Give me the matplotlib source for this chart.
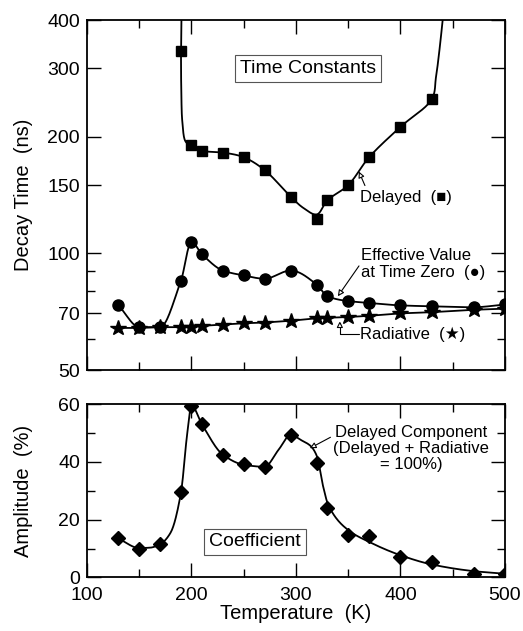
import numpy as np
import matplotlib
matplotlib.use('Agg')
import matplotlib.pyplot as plt
from matplotlib.ticker import FixedLocator, FixedFormatter, NullFormatter

plt.rcParams['font.family'] = ['Liberation Sans', 'DejaVu Sans']

# ---- data ----
temp = [130, 150, 170, 190, 200, 210, 230, 250, 270, 295, 320, 330, 350, 370, 400, 430, 470, 500]

delayed_T = [190, 200, 210, 230, 250, 270, 295, 320, 330, 350, 370, 400, 430]
delayed_ns = [333, 190, 184, 182, 177, 164, 140, 123, 137, 150, 177, 212, 250]

effective_ns = [73.4, 64.5, 64.5, 85, 107, 99.5, 90.3, 87.7, 86, 90.3, 83, 77.5, 75.3, 74.5, 73.4, 73, 72.6, 73.8]

radiative_T = [130, 150, 170, 190, 200, 210, 230, 250, 270, 295, 320, 330, 350, 370, 400, 430, 470, 500]
radiative_ns = [64.2, 64.2, 64.5, 64.5, 64.7, 65, 65.5, 66, 66.3, 67, 68, 68.2, 68.5, 69, 70, 70.5, 71.5, 72]

amp_T = [130, 150, 170, 190, 200, 210, 230, 250, 270, 295, 320, 330, 350, 370, 400, 430, 470, 500]
amp_pct = [13.5, 10, 11.5, 29.5, 59.4, 53, 42.5, 39.3, 38.3, 49.3, 39.7, 24, 14.6, 14.4, 7, 5.3, 1.3, 1.3]

# fitted curves as drawn in the figure (guide points)
delayed_fit_T = [190.4, 190.0, 190.3, 191.3, 194.5, 200, 210, 230, 250, 270, 295, 307, 320, 330, 350, 370, 400,
                 430, 434, 437.5, 440.4]
delayed_fit_ns = [400, 333, 260, 218, 194, 190, 184, 182, 177, 164, 140, 131, 126, 137, 150, 177, 212,
                  250, 285, 338, 400]

amp_fit_T = [130, 150, 160, 170, 180, 190, 196, 200, 210, 230, 250, 270, 283, 295, 305, 314, 320, 326, 331,
             350, 370, 400, 430, 470, 500]
amp_fit_pct = [13.5, 10.2, 10.3, 11.5, 15.5, 29.5, 50, 59.5, 53, 42.5, 39, 38.3, 44, 49.3, 47.5, 45.5, 42, 31.5, 25,
               16.4, 12.3, 7.7, 4.5, 2.2, 1.3]


def pchip(x, y, xn):
    x = np.asarray(x, float)
    y = np.asarray(y, float)
    h = np.diff(x)
    d = np.diff(y) / h
    m = np.zeros_like(y)
    for k in range(1, len(x) - 1):
        if d[k - 1] * d[k] > 0:
            w1 = 2 * h[k] + h[k - 1]
            w2 = h[k] + 2 * h[k - 1]
            m[k] = (w1 + w2) / (w1 / d[k - 1] + w2 / d[k])
    m[0] = d[0]
    m[-1] = d[-1]
    i = np.clip(np.searchsorted(x, xn) - 1, 0, len(x) - 2)
    t = (xn - x[i]) / h[i]
    return ((2 * t**3 - 3 * t**2 + 1) * y[i] + (t**3 - 2 * t**2 + t) * h[i] * m[i]
            + (-2 * t**3 + 3 * t**2) * y[i + 1] + (t**3 - t**2) * h[i] * m[i + 1])


def catmull_rom(xs, ys, n=30):
    p = np.column_stack([xs, ys]).astype(float)
    p = np.vstack([2 * p[0] - p[1], p, 2 * p[-1] - p[-2]])
    out = []
    for i in range(len(p) - 3):
        p0, p1, p2, p3 = p[i], p[i + 1], p[i + 2], p[i + 3]
        t0 = 0.0
        t1 = t0 + np.linalg.norm(p1 - p0) ** 0.5
        t2 = t1 + np.linalg.norm(p2 - p1) ** 0.5
        t3 = t2 + np.linalg.norm(p3 - p2) ** 0.5
        t = np.linspace(t1, t2, n)[:, None]
        a1 = (t1 - t) / (t1 - t0) * p0 + (t - t0) / (t1 - t0) * p1
        a2 = (t2 - t) / (t2 - t1) * p1 + (t - t1) / (t2 - t1) * p2
        a3 = (t3 - t) / (t3 - t2) * p2 + (t - t2) / (t3 - t2) * p3
        b1 = (t2 - t) / (t2 - t0) * a1 + (t - t0) / (t2 - t0) * a2
        b2 = (t3 - t) / (t3 - t1) * a2 + (t - t1) / (t3 - t1) * a3
        out.append((t2 - t) / (t2 - t1) * b1 + (t - t1) / (t2 - t1) * b2)
    c = np.vstack(out)
    return c[:, 0], c[:, 1]


fig = plt.figure(figsize=(5.23, 6.31), dpi=100)
ax1 = fig.add_axes([0.1663, 0.4136, 0.7992, 0.5547])
ax2 = fig.add_axes([0.1663, 0.0848, 0.7992, 0.2749])

# ---- top: time constants ----
cx, cy = catmull_rom(np.array(delayed_fit_T) * 1.044, np.log10(delayed_fit_ns) * 386)
ax1.plot(cx / 1.044, 10 ** (cy / 386), color='black', lw=1.3)
ax1.plot(delayed_T, delayed_ns, 's', color='black', ms=7.5)

tt = np.linspace(130, 500, 600)
ax1.plot(tt, pchip(temp, effective_ns, tt), color='black', lw=1.3)
ax1.plot(temp, effective_ns, 'o', color='black', ms=8)

ax1.plot(radiative_T, radiative_ns, '-', color='black', lw=1.3)
ax1.plot(radiative_T, radiative_ns, '*', color='black', ms=11.5)

ax1.set_yscale('log')
ax1.set_xlim(100, 500)
ax1.set_ylim(50, 400)
ax1.yaxis.set_major_locator(FixedLocator([50, 70, 100, 150, 200, 300, 400]))
ax1.yaxis.set_minor_locator(FixedLocator([60, 80, 90]))
ax1.yaxis.set_major_formatter(FixedFormatter(['50', '70', '100', '150', '200', '300', '400']))
ax1.yaxis.set_minor_formatter(NullFormatter())
ax1.set_ylabel('Decay Time  (ns)', fontsize=14.5)
ax1.yaxis.set_label_coords(-0.129, 0.5)

ax1.text(311.7, 300, 'Time Constants', fontsize=14, ha='center', va='center',
         bbox=dict(boxstyle='square,pad=0.25', fc='white', ec='#555555', lw=0.8))

arrow = dict(arrowstyle='-|>', fc='white', ec='black', lw=0.8, mutation_scale=9, shrinkA=0, shrinkB=0)
ax1.text(361, 139, 'Delayed  (■)', fontsize=12, ha='left', va='center')
ax1.annotate('', xy=(360.2, 162.6), xytext=(366, 149.6), arrowprops=arrow)
ax1.text(362, 93.9, 'Effective Value\nat Time Zero  (●)', fontsize=12, ha='left', va='center',
         linespacing=1.15)
ax1.annotate('', xy=(340.1, 77.5), xytext=(360.3, 92.8), arrowprops=arrow)
ax1.text(361, 61.9, 'Radiative  (★)', fontsize=12, ha='left', va='center')
ax1.annotate('', xy=(342, 66.8), xytext=(360, 61.9),
             arrowprops=dict(arrow, connectionstyle='angle,angleA=0,angleB=90,rad=0'))

# ---- bottom: amplitude coefficient ----
ax2.plot(tt, pchip(amp_fit_T, amp_fit_pct, tt), color='black', lw=1.3)
ax2.plot(amp_T, amp_pct, 'D', color='black', ms=7.5)
ax2.set_xlim(100, 500)
ax2.set_ylim(0, 60)
ax2.yaxis.set_major_locator(FixedLocator([0, 20, 40, 60]))
ax2.yaxis.set_minor_locator(FixedLocator([10, 30, 50]))
ax2.set_ylabel('Amplitude  (%)', fontsize=14.5)
ax2.yaxis.set_label_coords(-0.129, 0.5)
ax2.set_xlabel('Temperature  (K)', fontsize=14.5, labelpad=0)

ax2.text(261, 12.3, 'Coefficient', fontsize=14, ha='center', va='center',
         bbox=dict(boxstyle='square,pad=0.25', fc='white', ec='#555555', lw=0.8))
ax2.text(410, 44.6, 'Delayed Component\n(Delayed + Radiative\n= 100%)', fontsize=12,
         ha='center', va='center', ma='center', linespacing=1.1)
ax2.annotate('', xy=(313.3, 44.7), xytext=(333, 48.5), arrowprops=arrow)

for ax in (ax1, ax2):
    ax.xaxis.set_major_locator(FixedLocator([100, 200, 300, 400, 500]))
    ax.xaxis.set_minor_locator(FixedLocator([150, 250, 350, 450]))
    ax.tick_params(which='both', direction='in', top=True, right=True, labelsize=14, width=1.0)
    ax.tick_params(which='major', length=10, pad=5)
    ax.tick_params(which='minor', length=6)
    for s in ax.spines.values():
        s.set_linewidth(1.3)
ax1.tick_params(axis='x', labelbottom=False)
ax2.tick_params(axis='x', which='major', pad=6.5)

fig.savefig('out.png', dpi=100)
